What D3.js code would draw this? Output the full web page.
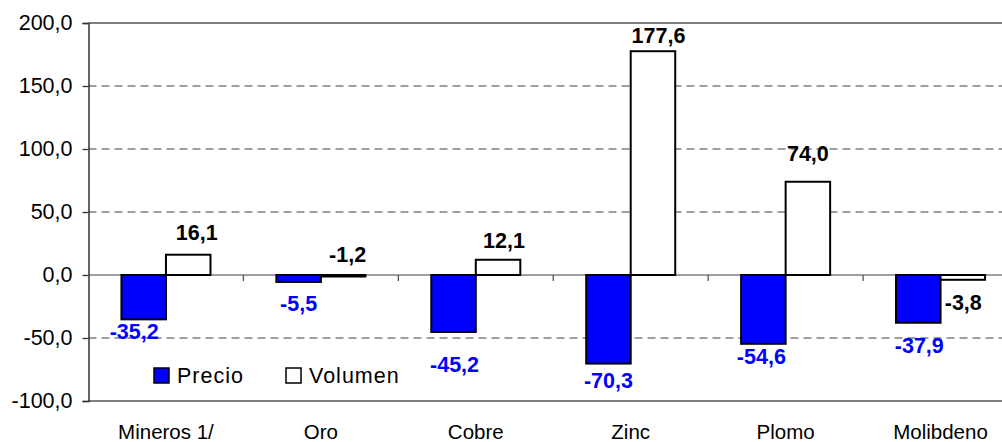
<!DOCTYPE html>
<html>
<head>
<meta charset="utf-8">
<script src="https://d3js.org/d3.v7.min.js"></script>
<style>
  body { margin: 0; background: #fff; }
  svg { display: block; font-family: "Liberation Sans", Arial, sans-serif; }
</style>
</head>
<body>
<svg id="chart" width="1002" height="442"></svg>
<script>
// data
var categories = ["Mineros 1/", "Oro", "Cobre", "Zinc", "Plomo", "Molibdeno"];
var series = ["Precio", "Volumen"];
var precio = [-35.2, -5.5, -45.2, -70.3, -54.6, -37.9];
var volumen = [16.1, -1.2, 12.1, 177.6, 74.0, -3.8];
var yTicks = [-100, -50, 0, 50, 100, 150, 200];

// hand-moved data labels (pixels, like in the original sheet)
var precioNudge = [[-9.5, 0], [0, 9], [1, 20], [0, 4], [-2, 0], [1, 10]];
var volumenNudge = [[8.5, -5], [4.5, -3], [6, -1.5], [5.5, 2], [0, -10.5], [0.5, 45]];

var svg = d3.select("#chart");
var plotLeft = 88.5, plotTop = 23, plotBottom = 401, plotRight = 1018;
var colors = { "Precio": "#0000ff", "Volumen": "#ffffff" };
var fmt = function(v) { return d3.format(".1f")(v).replace(".", ",").replace("−", "-"); };

var x0 = d3.scaleBand().domain(categories).range([plotLeft, plotRight]).padding(0);
var x1 = d3.scaleBand().domain(series).range([0, x0.bandwidth()]).paddingInner(0).paddingOuter(0.74);
var y = d3.scaleLinear().domain([-100, 200]).range([plotBottom, plotTop]);

// grid lines
svg.append("g").selectAll("line")
  .data(yTicks.filter(function(t) { return t != 0 && t != -100 && t != 200; }))
  .enter().append("line")
    .attr("x1", plotLeft).attr("x2", 1002)
    .attr("y1", function(d) { return y(d); }).attr("y2", function(d) { return y(d); })
    .attr("stroke", "#808080").attr("stroke-width", 1.3)
    .attr("stroke-dasharray", "8,5");

// top and bottom frame
[200, -100].forEach(function(t) {
  svg.append("line")
    .attr("x1", plotLeft).attr("x2", 1002)
    .attr("y1", y(t)).attr("y2", y(t))
    .attr("stroke", "#808080").attr("stroke-width", 2);
});

// y axis
var yAxis = d3.axisLeft(y).tickValues(yTicks).tickSize(6).tickPadding(10)
  .tickFormat(function(d) { return fmt(d); });
var ga = svg.append("g").attr("transform", "translate(" + plotLeft + ",0)").call(yAxis);
ga.select(".domain").attr("stroke", "#333").attr("stroke-width", 1.5);
ga.selectAll(".tick line").attr("stroke", "#333").attr("stroke-width", 1.3);
ga.selectAll(".tick text").attr("font-size", 21.5).attr("fill", "#000")
  .attr("font-family", "Liberation Sans, Arial, sans-serif");

// bars
var rows = categories.map(function(c, i) {
  return { cat: c, i: i, vals: [{ s: "Precio", v: precio[i] }, { s: "Volumen", v: volumen[i] }] };
});

var groups = svg.append("g").selectAll("g")
  .data(rows)
  .enter().append("g")
    .attr("transform", function(d) { return "translate(" + x0(d.cat) + ",0)"; });

groups.selectAll("rect")
  .data(function(d) { return d.vals; })
  .enter().append("rect")
    .attr("x", function(d) { return x1(d.s); })
    .attr("width", x1.bandwidth())
    .attr("y", function(d) { return y(Math.max(d.v, 0)); })
    .attr("height", function(d) { return Math.abs(y(d.v) - y(0)); })
    .attr("fill", function(d) { return colors[d.s]; })
    .attr("stroke", "#000").attr("stroke-width", 2);

// zero line with category ticks
svg.insert("line", "g")
  .attr("x1", plotLeft).attr("x2", 1002)
  .attr("y1", y(0)).attr("y2", y(0))
  .attr("stroke", "#808080").attr("stroke-width", 1.5);

svg.append("g").selectAll("line")
  .data(categories.slice(1))
  .enter().append("line")
    .attr("x1", function(d) { return x0(d); }).attr("x2", function(d) { return x0(d); })
    .attr("y1", y(0)).attr("y2", y(0) + 6)
    .attr("stroke", "#555").attr("stroke-width", 1.3);

// value labels
groups.append("text")
  .attr("x", function(d) { return x1("Precio") + x1.bandwidth() / 2 + precioNudge[d.i][0]; })
  .attr("y", function(d) { return y(Math.min(precio[d.i], 0)) + 20 + precioNudge[d.i][1]; })
  .attr("text-anchor", "middle")
  .attr("font-size", 21.5).attr("font-weight", "bold").attr("fill", "#0000ff")
  .text(function(d) { return fmt(precio[d.i]); });

groups.append("text")
  .attr("x", function(d) { return x1("Volumen") + x1.bandwidth() / 2 + volumenNudge[d.i][0]; })
  .attr("y", function(d) { return y(Math.max(volumen[d.i], 0)) - 10 + volumenNudge[d.i][1]; })
  .attr("text-anchor", "middle")
  .attr("font-size", 21.5).attr("font-weight", "bold").attr("fill", "#000")
  .text(function(d) { return fmt(volumen[d.i]); });

// category labels
svg.append("g").selectAll("text")
  .data(categories)
  .enter().append("text")
    .attr("x", function(d) { return x0(d) + x0.bandwidth() / 2; })
    .attr("y", 439)
    .attr("text-anchor", "middle")
    .attr("font-size", 20.5).attr("fill", "#000")
    .text(function(d) { return d; });

// legend
var legend = svg.append("g").attr("transform", "translate(154,368)");
var lx = [0, 132];
series.forEach(function(s, i) {
  legend.append("rect")
    .attr("x", lx[i]).attr("y", 0).attr("width", 15).attr("height", 15)
    .attr("fill", colors[s]).attr("stroke", "#000").attr("stroke-width", 1.5);
  legend.append("text")
    .attr("x", lx[i] + 23).attr("y", 15)
    .attr("font-size", 21.5).attr("letter-spacing", 1).attr("fill", "#000")
    .text(s);
});
</script>
</body>
</html>
